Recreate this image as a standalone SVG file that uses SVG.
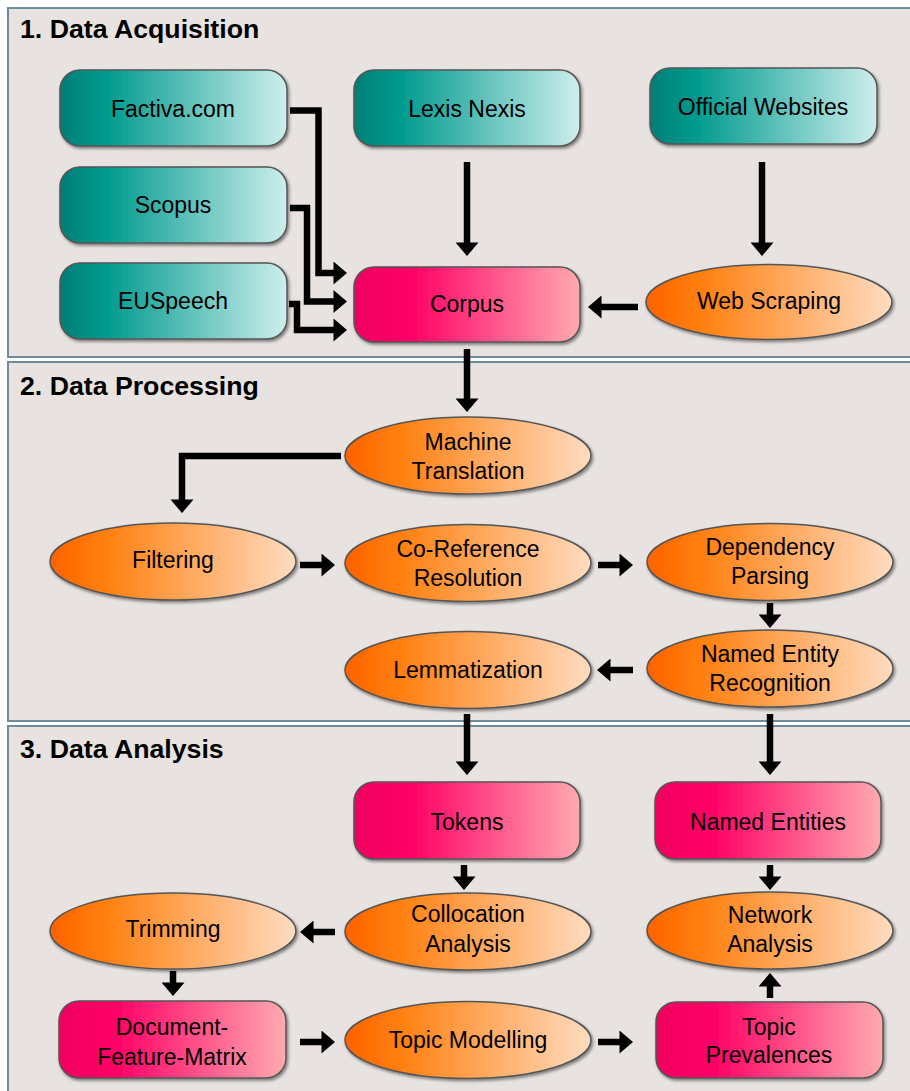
<svg xmlns="http://www.w3.org/2000/svg" width="910" height="1091" viewBox="0 0 910 1091">
<defs>
<linearGradient id="gTeal" x1="0" y1="0" x2="1" y2="0">
<stop offset="0" stop-color="#007f76"/><stop offset="0.2" stop-color="#009a8e"/><stop offset="1" stop-color="#cdeeed"/>
</linearGradient>
<linearGradient id="gPink" x1="0" y1="0" x2="1" y2="0">
<stop offset="0" stop-color="#f00560"/><stop offset="0.25" stop-color="#ff0066"/><stop offset="1" stop-color="#ffaab0"/>
</linearGradient>
<linearGradient id="gOrange" x1="0" y1="0" x2="1" y2="0">
<stop offset="0" stop-color="#ff6200"/><stop offset="0.2" stop-color="#ff7d0a"/><stop offset="1" stop-color="#ffdcc0"/>
</linearGradient>
<filter id="sh" x="-10%" y="-10%" width="125%" height="130%">
<feDropShadow dx="1.5" dy="2" stdDeviation="1.8" flood-color="#000" flood-opacity="0.45"/>
</filter>
<marker id="ah" markerUnits="userSpaceOnUse" markerWidth="14" markerHeight="23" viewBox="0 0 13 22" refX="0.5" refY="11" orient="auto">
<path d="M0,0 L13,11 L0,22 z" fill="#000"/>
</marker>
<style>
.panel{fill:#e8e3e1;stroke:#6e8c9c;stroke-width:2}
.title{font-family:"Liberation Sans",Arial,sans-serif;font-weight:bold;font-size:26.7px;fill:#000}
.lbl{font-family:"Liberation Sans",Arial,sans-serif;font-size:23px;fill:#000;text-anchor:middle}
.teal{fill:url(#gTeal);stroke:#555;stroke-width:1.5;filter:url(#sh)}
.pink{fill:url(#gPink);stroke:#555;stroke-width:1.5;filter:url(#sh)}
.orange{fill:url(#gOrange);stroke:#555;stroke-width:1.5;filter:url(#sh)}
.conn path{fill:none;stroke:#000;stroke-width:6.5;marker-end:url(#ah)}
</style>
</defs>

<g id="panels">
<rect class="panel" x="8" y="8" width="910" height="349"/>
<rect class="panel" x="8" y="362" width="910" height="359"/>
<rect class="panel" x="8" y="726" width="910" height="380"/>
<text class="title" x="20" y="38">1. Data Acquisition</text>
<text class="title" x="20" y="395">2. Data Processing</text>
<text class="title" x="20" y="758">3. Data Analysis</text>
</g>

<g id="factiva"><rect class="teal" x="60" y="70" width="227" height="76" rx="20"/><text class="lbl" x="173" y="117">Factiva.com</text></g>
<g id="scopus"><rect class="teal" x="60" y="167" width="227" height="76" rx="20"/><text class="lbl" x="173" y="213">Scopus</text></g>
<g id="euspeech"><rect class="teal" x="60" y="263" width="227" height="76" rx="20"/><text class="lbl" x="173" y="309">EUSpeech</text></g>
<g id="lexis"><rect class="teal" x="354" y="70" width="226" height="76" rx="20"/><text class="lbl" x="467" y="117">Lexis Nexis</text></g>
<g id="official"><rect class="teal" x="650" y="68" width="227" height="76" rx="20"/><text class="lbl" x="763" y="115">Official Websites</text></g>
<g id="corpus"><rect class="pink" x="354" y="267" width="226" height="75" rx="20"/><text class="lbl" x="467" y="312">Corpus</text></g>
<g id="webscraping"><ellipse class="orange" cx="769" cy="302" rx="123" ry="37.5"/><text class="lbl" x="769" y="309">Web Scraping</text></g>

<g id="machinetranslation"><ellipse class="orange" cx="468" cy="455.5" rx="123" ry="38.5"/><text class="lbl" x="468" y="450">Machine</text><text class="lbl" x="468" y="479">Translation</text></g>
<g id="filtering"><ellipse class="orange" cx="173" cy="561.5" rx="123" ry="38.5"/><text class="lbl" x="173" y="568">Filtering</text></g>
<g id="coreference"><ellipse class="orange" cx="468" cy="563" rx="123" ry="38.5"/><text class="lbl" x="468" y="557">Co-Reference</text><text class="lbl" x="468" y="586">Resolution</text></g>
<g id="dependency"><ellipse class="orange" cx="770" cy="562" rx="123" ry="38.5"/><text class="lbl" x="770" y="555">Dependency</text><text class="lbl" x="770" y="584">Parsing</text></g>
<g id="ner"><ellipse class="orange" cx="770" cy="668.5" rx="123" ry="38.5"/><text class="lbl" x="770" y="662">Named Entity</text><text class="lbl" x="770" y="691">Recognition</text></g>
<g id="lemmatization"><ellipse class="orange" cx="468" cy="670" rx="123" ry="38.5"/><text class="lbl" x="468" y="678">Lemmatization</text></g>

<g id="tokens"><rect class="pink" x="354" y="782" width="226" height="77" rx="20"/><text class="lbl" x="467" y="830">Tokens</text></g>
<g id="namedentities"><rect class="pink" x="655" y="782" width="226" height="77" rx="20"/><text class="lbl" x="768" y="830">Named Entities</text></g>
<g id="collocation"><ellipse class="orange" cx="468" cy="931.5" rx="123" ry="38.5"/><text class="lbl" x="468" y="922">Collocation</text><text class="lbl" x="468" y="952">Analysis</text></g>
<g id="network"><ellipse class="orange" cx="770" cy="930.5" rx="123" ry="38.5"/><text class="lbl" x="770" y="923">Network</text><text class="lbl" x="770" y="952">Analysis</text></g>
<g id="trimming"><ellipse class="orange" cx="173" cy="931" rx="123" ry="38"/><text class="lbl" x="173" y="937">Trimming</text></g>
<g id="dfm"><rect class="pink" x="59" y="1001" width="227" height="77" rx="20"/><text class="lbl" x="172" y="1035">Document-</text><text class="lbl" x="172" y="1065">Feature-Matrix</text></g>
<g id="topicmodelling"><ellipse class="orange" cx="468" cy="1040" rx="123" ry="38.5"/><text class="lbl" x="468" y="1048">Topic Modelling</text></g>
<g id="topicprevalences"><rect class="pink" x="656" y="1002" width="227" height="76" rx="20"/><text class="lbl" x="769" y="1035">Topic</text><text class="lbl" x="769" y="1063">Prevalences</text></g>

<g id="connectors" class="conn">
<path d="M290,110.5 H318.5 V273 H334"/>
<path d="M290,208 H307 V301.5 H334"/>
<path d="M289,304 H297 V330 H334"/>
<path d="M467,162 V243"/>
<path d="M762,162 V243"/>
<path d="M638,307 H601"/>
<path d="M467,349 V399"/>
<path d="M341,456 H182 V500"/>
<path d="M300,565 H322"/>
<path d="M598,565 H620"/>
<path d="M770,603 V615"/>
<path d="M633,670 H610"/>
<path d="M467,714 V762"/>
<path d="M770,714 V762"/>
<path d="M464,865 V877"/>
<path d="M770,865 V877"/>
<path d="M335,932 H313"/>
<path d="M173,971 V983"/>
<path d="M300,1042 H322"/>
<path d="M598,1042 H620"/>
<path d="M770,998 V986"/>
</g>
</svg>
